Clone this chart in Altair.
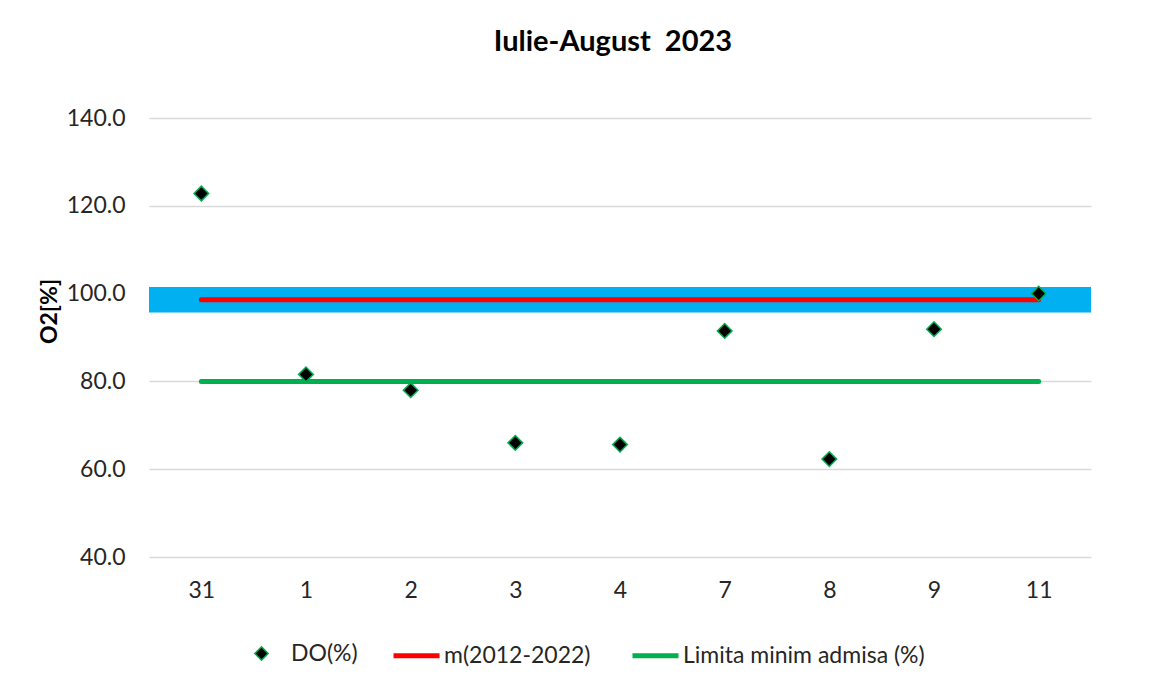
import altair as alt
import pandas as pd

# ---- data ----
days = ["31", "1", "2", "3", "4", "7", "8", "9", "11"]
do_values = [122.8, 81.6, 78.0, 66.0, 65.6, 91.5, 62.3, 91.9, 100.0]
mean_values = [98.6, 98.6, 98.6, 98.6, 98.6, 98.6, 98.6, 98.6, 98.6]
limit_values = [80.0, 80.0, 80.0, 80.0, 80.0, 80.0, 80.0, 80.0, 80.0]
band_low = [95.7]
band_high = [101.5]
point_name = "DO(%)"
line_names = ["m(2012-2022)", "Limita minim admisa (%)"]
line_colors = ["#ff0000", "#00b050"]
y_ticks = [40, 60, 80, 100, 120, 140]

FONT = "Lato"
TXT = "#262626"

do_df = pd.DataFrame({"day": days, "value": do_values, "series": point_name})
lines_df = pd.concat([
    pd.DataFrame({"day": days, "value": mean_values, "series": line_names[0]}),
    pd.DataFrame({"day": days, "value": limit_values, "series": line_names[1]}),
])
band_df = pd.DataFrame({"lo": band_low, "hi": band_high})

x_enc = alt.X(
    "day:N",
    sort=days,
    title=None,
    axis=alt.Axis(
        labelAngle=0, labelFontSize=23, labelColor=TXT, labelFont=FONT,
        ticks=False, domain=False, labelPadding=22, grid=False,
    ),
)
y_scale = alt.Scale(domain=[40, 140], nice=False, zero=False)
y_axis = alt.Axis(
    values=y_ticks, format=".1f", labelFontSize=23, labelColor=TXT, labelFont=FONT,
    ticks=False, domain=False, labelPadding=24,
    grid=True, gridColor="#d9d9d9", gridWidth=1.3,
    title="O2[%]", titleFontSize=23, titleFont=FONT, titleFontWeight="bold",
    titleColor="#000000", titleAngle=270, titleAlign="center", titleBaseline="middle",
    titleX=-100, titleY=193,
)

band = alt.Chart(band_df).mark_rect(color="#00b0f0").encode(
    y=alt.Y("lo:Q", scale=y_scale, axis=y_axis),
    y2="hi:Q",
)

lines = alt.Chart(lines_df).mark_line(strokeWidth=5, strokeCap="round").encode(
    x=x_enc,
    y=alt.Y("value:Q", scale=y_scale),
    color=alt.Color(
        "series:N",
        scale=alt.Scale(domain=line_names, range=line_colors),
        legend=alt.Legend(
            title=None, orient="none", direction="horizontal",
            legendX=242, legendY=512,
            symbolType="stroke", symbolSize=2116, symbolStrokeWidth=5,
            labelFontSize=23, labelFont=FONT, labelColor=TXT, labelLimit=500,
            labelOffset=2, columnPadding=31,
        ),
    ),
)

points = alt.Chart(do_df).mark_point(
    shape="diamond", filled=True, size=215, stroke="#00b050", strokeWidth=1.5, opacity=1
).encode(
    x=x_enc,
    y=alt.Y("value:Q", scale=y_scale),
    fill=alt.Fill(
        "series:N",
        scale=alt.Scale(domain=[point_name], range=["#000000"]),
        legend=alt.Legend(
            title=None, orient="none", direction="horizontal",
            legendX=101, legendY=524,
            symbolType="diamond", symbolSize=180,
            symbolStrokeColor="#00b050", symbolStrokeWidth=1.5, symbolOpacity=1,
            labelFontSize=23, labelFont=FONT, labelColor=TXT, labelLimit=500,
            labelOffset=18,
        ),
    ),
)

chart = (
    alt.layer(band, lines, points)
    .resolve_scale(color="independent", fill="independent")
    .properties(
        width=942,
        height=439,
        autosize=alt.AutoSizeParams(type="none"),
        padding={"left": 141, "top": 110, "right": 52, "bottom": 122},
        title=alt.TitleParams(
            "Iulie-August\u00a0 2023",
            font=FONT, fontSize=29, fontWeight="bold", color="#000000",
            anchor="middle", offset=50, dx=-7,
        ),
    )
    .configure(background="white")
    .configure_view(stroke=None)
)

chart.save("out.html", embed_options={"renderer": "svg", "actions": False})
